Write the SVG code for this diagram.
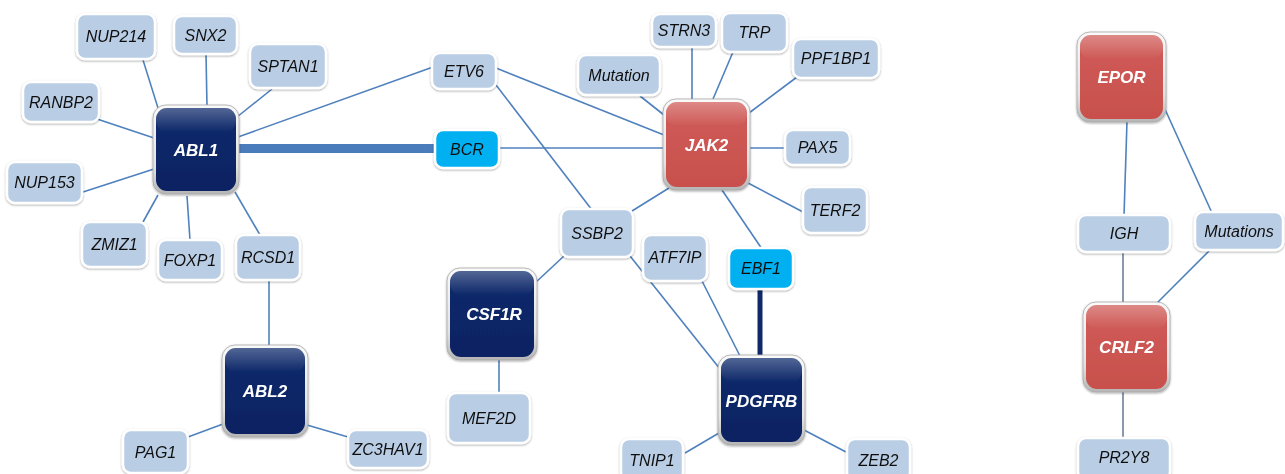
<svg xmlns="http://www.w3.org/2000/svg" width="1285" height="474" viewBox="0 0 1285 474">
  <defs>
    <filter id="shadow" x="-20%" y="-20%" width="140%" height="140%">
      <feDropShadow dx="0" dy="1" stdDeviation="1.3" flood-color="#000" flood-opacity="0.35"/>
    </filter>
    <linearGradient id="frame" x1="0" y1="0" x2="0" y2="1">
      <stop offset="0" stop-color="#fafafa"/>
      <stop offset="0.7" stop-color="#e2e2e2"/>
      <stop offset="1" stop-color="#b5b5b5"/>
    </linearGradient>
    <linearGradient id="navy" x1="0" y1="0" x2="0" y2="1">
      <stop offset="0" stop-color="#0f2b6c"/>
      <stop offset="1" stop-color="#0a2262"/>
    </linearGradient>
    <linearGradient id="red" x1="0" y1="0" x2="0" y2="1">
      <stop offset="0" stop-color="#d05c58"/>
      <stop offset="1" stop-color="#c8504c"/>
    </linearGradient>
    <linearGradient id="gloss" x1="0" y1="0" x2="0" y2="1">
      <stop offset="0" stop-color="#ffffff" stop-opacity="0.28"/>
      <stop offset="1" stop-color="#ffffff" stop-opacity="0"/>
    </linearGradient>
  </defs>
  <style>
    .edge { stroke: #4f81bd; stroke-width: 1.6; fill: none; }
    .edge-grey { stroke: #6d7f96; stroke-width: 1.6; fill: none; }
    .fusion { stroke: #4a7cbc; stroke-width: 9; fill: none; }
    .fusion-dark { stroke: #0e2868; stroke-width: 5; fill: none; }
    .small rect { fill: #b9cde5; stroke: #ffffff; stroke-width: 2.5; }
    .small.cyan rect { fill: #00b0f0; }
    .small text { font-family: "Liberation Sans", Arial, sans-serif; font-style: italic; font-size: 16px; fill: #111; text-anchor: middle; }
    .big .frame { fill: url(#frame); stroke: #a8a8a8; stroke-width: 0.8; }
    .big.kinase .core { fill: url(#navy); }
    .big.receptor .core { fill: url(#red); }
    .big .gloss { fill: url(#gloss); }
    .big text { font-family: "Liberation Sans", Arial, sans-serif; font-style: italic; font-weight: bold; font-size: 17px; fill: #ffffff; text-anchor: middle; }
  </style>

  <g id="connectors">
    <!-- ABL1 partners -->
    <line class="fusion" x1="238" y1="148.5" x2="437" y2="148.5"/>
    <line class="edge" x1="143" y1="60" x2="158" y2="108"/>
    <line class="edge" x1="206" y1="54" x2="207" y2="107"/>
    <line class="edge" x1="272" y1="89" x2="237" y2="117"/>
    <line class="edge" x1="97" y1="119" x2="154" y2="138"/>
    <line class="edge" x1="83" y1="192" x2="154" y2="169"/>
    <line class="edge" x1="143" y1="222" x2="158" y2="195"/>
    <line class="edge" x1="190" y1="240" x2="187" y2="196"/>
    <line class="edge" x1="260" y1="235" x2="235" y2="192"/>
    <line class="edge" x1="238" y1="137" x2="433" y2="67"/>
    <!-- ABL2 partners -->
    <line class="edge" x1="269" y1="280" x2="269" y2="346"/>
    <line class="edge" x1="188" y1="437" x2="223" y2="424"/>
    <line class="edge" x1="307" y1="425" x2="348" y2="437"/>
    <!-- JAK2 partners -->
    <line class="edge" x1="496" y1="68" x2="664" y2="135"/>
    <line class="edge" x1="496" y1="85" x2="592" y2="210"/>
    <line class="edge" x1="499" y1="148" x2="664" y2="148"/>
    <line class="edge" x1="640" y1="96" x2="664" y2="115"/>
    <line class="edge" x1="692" y1="47" x2="692" y2="100"/>
    <line class="edge" x1="733" y1="52" x2="713" y2="99"/>
    <line class="edge" x1="797" y1="77" x2="749" y2="113"/>
    <line class="edge" x1="749" y1="148" x2="786" y2="148"/>
    <line class="edge" x1="748" y1="183" x2="803" y2="212"/>
    <line class="edge" x1="632" y1="211" x2="669" y2="188"/>
    <line class="edge" x1="722" y1="190" x2="762" y2="249"/>
    <!-- CSF1R / PDGFRB partners -->
    <line class="edge" x1="535" y1="283" x2="564" y2="256"/>
    <line class="edge" x1="630" y1="256" x2="720" y2="369"/>
    <line class="edge" x1="702" y1="281" x2="740" y2="356"/>
    <line class="fusion-dark" x1="760" y1="288" x2="760" y2="357"/>
    <line class="edge" x1="499" y1="359" x2="499" y2="394"/>
    <line class="edge" x1="685" y1="453" x2="719" y2="433"/>
    <line class="edge" x1="804" y1="430" x2="846" y2="452"/>
    <!-- EPOR / CRLF2 partners -->
    <line class="edge" x1="1127" y1="121" x2="1124" y2="216"/>
    <line class="edge" x1="1164" y1="107" x2="1212" y2="213"/>
    <line class="edge-grey" x1="1123" y1="252" x2="1123" y2="303"/>
    <line class="edge" x1="1211" y1="249" x2="1155" y2="305"/>
    <line class="edge-grey" x1="1123" y1="391" x2="1123" y2="439"/>
  </g>

  <!-- Hub genes -->
  <g id="ABL1" class="big kinase" filter="url(#shadow)">
    <rect class="frame" x="153" y="105" width="86" height="89" rx="13"/>
    <rect class="core" x="156" y="108" width="80" height="83" rx="11"/>
    <rect class="gloss" x="156" y="108" width="80" height="24" rx="11"/>
    <text x="196" y="156">ABL1</text>
  </g>
  <g id="JAK2" class="big receptor" filter="url(#shadow)">
    <rect class="frame" x="663" y="99" width="87" height="91" rx="13"/>
    <rect class="core" x="666" y="102" width="81" height="85" rx="11"/>
    <rect class="gloss" x="666" y="102" width="81" height="24" rx="11"/>
    <text x="706.5" y="151">JAK2</text>
  </g>
  <g id="EPOR" class="big receptor" filter="url(#shadow)">
    <rect class="frame" x="1077" y="32" width="89" height="90" rx="13"/>
    <rect class="core" x="1080" y="35" width="83" height="84" rx="11"/>
    <rect class="gloss" x="1080" y="35" width="83" height="24" rx="11"/>
    <text x="1121.5" y="83">EPOR</text>
  </g>
  <g id="CRLF2" class="big receptor" filter="url(#shadow)">
    <rect class="frame" x="1083" y="302" width="87" height="90" rx="13"/>
    <rect class="core" x="1086" y="305" width="81" height="84" rx="11"/>
    <rect class="gloss" x="1086" y="305" width="81" height="24" rx="11"/>
    <text x="1126.5" y="353">CRLF2</text>
  </g>
  <g id="CSF1R" class="big kinase" filter="url(#shadow)">
    <rect class="frame" x="447" y="268" width="90" height="92" rx="13"/>
    <rect class="core" x="450" y="271" width="84" height="86" rx="11"/>
    <rect class="gloss" x="450" y="271" width="84" height="24" rx="11"/>
    <text x="494" y="320">CSF1R</text>
  </g>
  <g id="ABL2" class="big kinase" filter="url(#shadow)">
    <rect class="frame" x="222" y="345" width="86" height="92" rx="13"/>
    <rect class="core" x="225" y="348" width="80" height="86" rx="11"/>
    <rect class="gloss" x="225" y="348" width="80" height="24" rx="11"/>
    <text x="265" y="397">ABL2</text>
  </g>
  <g id="PDGFRB" class="big kinase" filter="url(#shadow)">
    <rect class="frame" x="718" y="355" width="87" height="90" rx="13"/>
    <rect class="core" x="721" y="358" width="81" height="84" rx="11"/>
    <rect class="gloss" x="721" y="358" width="81" height="24" rx="11"/>
    <text x="761.5" y="407">PDGFRB</text>
  </g>

  <!-- Partner genes -->
  <g id="NUP214" class="small" filter="url(#shadow)"><rect x="77" y="14" width="78" height="45" rx="8"/><text x="116" y="42">NUP214</text></g>
  <g id="SNX2" class="small" filter="url(#shadow)"><rect x="174" y="16" width="63" height="38" rx="8"/><text x="205.5" y="40.5">SNX2</text></g>
  <g id="SPTAN1" class="small" filter="url(#shadow)"><rect x="250" y="44" width="76" height="44" rx="8"/><text x="288" y="71.5">SPTAN1</text></g>
  <g id="RANBP2" class="small" filter="url(#shadow)"><rect x="23" y="82" width="76" height="40" rx="8"/><text x="61" y="107.5">RANBP2</text></g>
  <g id="NUP153" class="small" filter="url(#shadow)"><rect x="7" y="162" width="75" height="41" rx="8"/><text x="44.5" y="188">NUP153</text></g>
  <g id="ZMIZ1" class="small" filter="url(#shadow)"><rect x="82" y="222" width="65" height="45" rx="8"/><text x="114.5" y="250">ZMIZ1</text></g>
  <g id="FOXP1" class="small" filter="url(#shadow)"><rect x="158" y="240" width="64" height="40" rx="8"/><text x="190" y="265.5">FOXP1</text></g>
  <g id="RCSD1" class="small" filter="url(#shadow)"><rect x="236" y="235" width="64" height="45" rx="8"/><text x="268" y="263">RCSD1</text></g>
  <g id="ETV6" class="small" filter="url(#shadow)"><rect x="432" y="53" width="64" height="36" rx="8"/><text x="464" y="76.5">ETV6</text></g>
  <g id="BCR" class="small cyan" filter="url(#shadow)"><rect x="435" y="130" width="64" height="38" rx="8"/><text x="467" y="154.5">BCR</text></g>
  <g id="Mutation" class="small" filter="url(#shadow)"><rect x="578" y="55" width="82" height="40" rx="8"/><text x="619" y="80.5">Mutation</text></g>
  <g id="STRN3" class="small" filter="url(#shadow)"><rect x="652" y="14" width="64" height="33" rx="8"/><text x="684" y="36">STRN3</text></g>
  <g id="TRP" class="small" filter="url(#shadow)"><rect x="722" y="13" width="65" height="39" rx="8"/><text x="754.5" y="38">TRP</text></g>
  <g id="PPF1BP1" class="small" filter="url(#shadow)"><rect x="793" y="39" width="86" height="39" rx="8"/><text x="836" y="64">PPF1BP1</text></g>
  <g id="PAX5" class="small" filter="url(#shadow)"><rect x="785" y="130" width="65" height="35" rx="8"/><text x="817.5" y="153">PAX5</text></g>
  <g id="TERF2" class="small" filter="url(#shadow)"><rect x="803" y="187" width="64" height="46" rx="8"/><text x="835" y="215.5">TERF2</text></g>
  <g id="SSBP2" class="small" filter="url(#shadow)"><rect x="561" y="209" width="72" height="48" rx="8"/><text x="597" y="238.5">SSBP2</text></g>
  <g id="ATF7IP" class="small" filter="url(#shadow)"><rect x="643" y="235" width="64" height="46" rx="8"/><text x="675" y="263">ATF7IP</text></g>
  <g id="EBF1" class="small cyan" filter="url(#shadow)"><rect x="729" y="248" width="64" height="41" rx="8"/><text x="761" y="274">EBF1</text></g>
  <g id="MEF2D" class="small" filter="url(#shadow)"><rect x="448" y="393" width="82" height="50" rx="8"/><text x="489" y="423.5">MEF2D</text></g>
  <g id="PAG1" class="small" filter="url(#shadow)"><rect x="123" y="430" width="65" height="43" rx="8"/><text x="155.5" y="457.5">PAG1</text></g>
  <g id="ZC3HAV1" class="small" filter="url(#shadow)"><rect x="348" y="430" width="80" height="38" rx="8"/><text x="388" y="454.5">ZC3HAV1</text></g>
  <g id="TNIP1" class="small" filter="url(#shadow)"><rect x="621" y="439" width="62" height="42" rx="8"/><text x="652" y="465.5">TNIP1</text></g>
  <g id="ZEB2" class="small" filter="url(#shadow)"><rect x="847" y="439" width="63" height="42" rx="8"/><text x="878.5" y="465.5">ZEB2</text></g>
  <g id="IGH" class="small" filter="url(#shadow)"><rect x="1078" y="215" width="92" height="37" rx="8"/><text x="1124" y="239">IGH</text></g>
  <g id="Mutations" class="small" filter="url(#shadow)"><rect x="1195" y="212" width="88" height="38" rx="8"/><text x="1239" y="236.5">Mutations</text></g>
  <g id="PR2Y8" class="small" filter="url(#shadow)"><rect x="1078" y="438" width="92" height="42" rx="8"/><text x="1124" y="463">PR2Y8</text></g>
</svg>
